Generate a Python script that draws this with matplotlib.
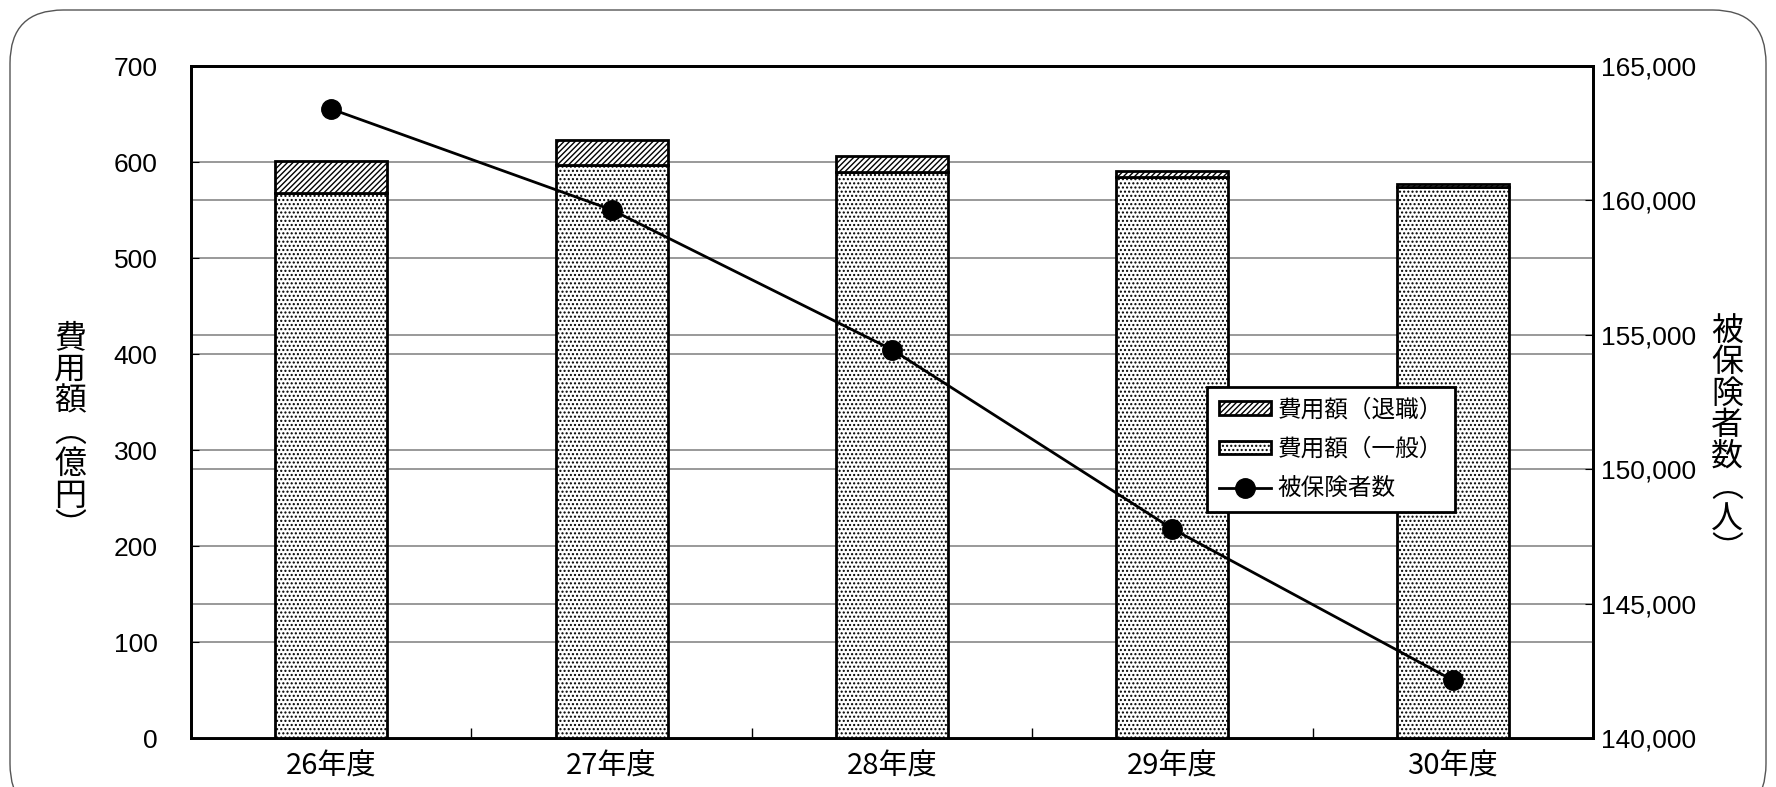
"""Cost vs insured persons, FY26-30 (stacked bars + line on twin axis)."""

import matplotlib
matplotlib.use("Agg")
import matplotlib.pyplot as plt
from matplotlib.patches import FancyBboxPatch, Patch
from matplotlib.lines import Line2D
import matplotlib.ticker as mticker
import numpy as np

plt.rcParams["font.family"] = ["Liberation Sans", "Noto Sans CJK JP", "DejaVu Sans"]
plt.rcParams["hatch.linewidth"] = 1.0

years      = ["26年度", "27年度", "28年度", "29年度", "30年度"]
cost_gen   = [568, 597, 590, 584, 574]     # 費用額（一般）億円
cost_ret   = [33, 26, 16, 7, 3]            # 費用額（退職）億円
insured    = [163400, 159650, 154450, 147780, 142150]  # 被保険者数

W, H = 1776, 787
fig = plt.figure(figsize=(W / 100, H / 100), dpi=100)

# rounded outer frame
frame = FancyBboxPatch((10 / W, -30 / H), 1756 / W, 1 + 20 / H,
                       boxstyle="round,pad=0,rounding_size=0.03",
                       transform=fig.transFigure, fill=False,
                       edgecolor="#555555", linewidth=1.0,
                       mutation_aspect=W / H)
fig.patches.append(frame)

L, R, T, B = 191, 1593, 66, 738
ax1 = fig.add_axes([L / W, 1 - B / H, (R - L) / W, (B - T) / H])
ax2 = ax1.twinx()
ax1.set_zorder(ax2.get_zorder() + 1)
ax1.patch.set_visible(False)

x = np.arange(len(years))
bw = 0.4
ax1.bar(x, cost_gen, bw, color="white", edgecolor="black", hatch="....",
        linewidth=2, zorder=3)
ax1.bar(x, cost_ret, bw, bottom=cost_gen, color="white", edgecolor="black",
        hatch="//////", linewidth=2, zorder=3)

ax1.set_xlim(-0.5, len(years) - 0.5)
ax1.set_ylim(0, 700)
ax1.yaxis.set_major_locator(mticker.MultipleLocator(100))
ax1.set_xticks(x)
ax1.set_xticklabels(years, fontsize=21, family=["Noto Sans CJK JP"])
ax1.set_xticks(np.arange(0.5, len(years) - 0.5), minor=True)
ax1.tick_params(axis="x", which="major", length=0, pad=10)
ax1.tick_params(axis="x", which="minor", length=7, direction="in", width=1)
ax1.tick_params(axis="y", labelsize=19, direction="in", length=6, pad=24)
ax1.grid(axis="y", color="#888888", linewidth=1.2, zorder=0)

# line on right axis (drawn on ax1 scale so it sits above the bars)
ins_scaled = [(v - 140000) / 25000 * 700 for v in insured]
ax1.plot(x, ins_scaled, color="black", linewidth=2, marker="o",
         markersize=14, zorder=5, clip_on=False)

ax2.set_ylim(140000, 165000)
ax2.yaxis.set_major_locator(mticker.MultipleLocator(5000))
ax2.yaxis.set_major_formatter(mticker.StrMethodFormatter("{x:,.0f}"))
ax2.tick_params(axis="y", labelsize=19, direction="in", length=6, pad=6)
ax2.grid(axis="y", color="#888888", linewidth=1.2, zorder=0)

for a in (ax1, ax2):
    for s in a.spines.values():
        s.set_linewidth(2)
        s.set_color("black")

fig.text(70 / W, 0.45, "費\n用\n額\n︵\n億\n円\n︶", fontsize=23,
         family=["Noto Sans CJK JP"], ha="center", va="center",
         linespacing=0.98)
fig.text(1727 / W, 0.44, "被\n保\n険\n者\n数\n︵\n人\n︶", fontsize=23,
         family=["Noto Sans CJK JP"], ha="center", va="center",
         linespacing=0.98)

handles = [
    Patch(facecolor="white", edgecolor="black", hatch="//////", linewidth=2),
    Patch(facecolor="white", edgecolor="black", hatch="....", linewidth=2),
    Line2D([0], [0], color="black", linewidth=2, marker="o", markersize=14),
]
labels = ["費用額（退職）", "費用額（一般）", "被保険者数"]
leg = ax1.legend(handles, labels, loc="lower left",
                 bbox_to_anchor=(0.7247, 0.336), frameon=True, fancybox=False,
                 edgecolor="black", framealpha=1, borderaxespad=0,
                 prop={"family": ["Noto Sans CJK JP"], "size": 17},
                 handlelength=2.2, handleheight=0.5, handletextpad=0.3,
                 labelspacing=0.7, borderpad=0.5)
leg.get_frame().set_linewidth(2)
leg.set_zorder(10)

fig.savefig("out.png", dpi=100)
